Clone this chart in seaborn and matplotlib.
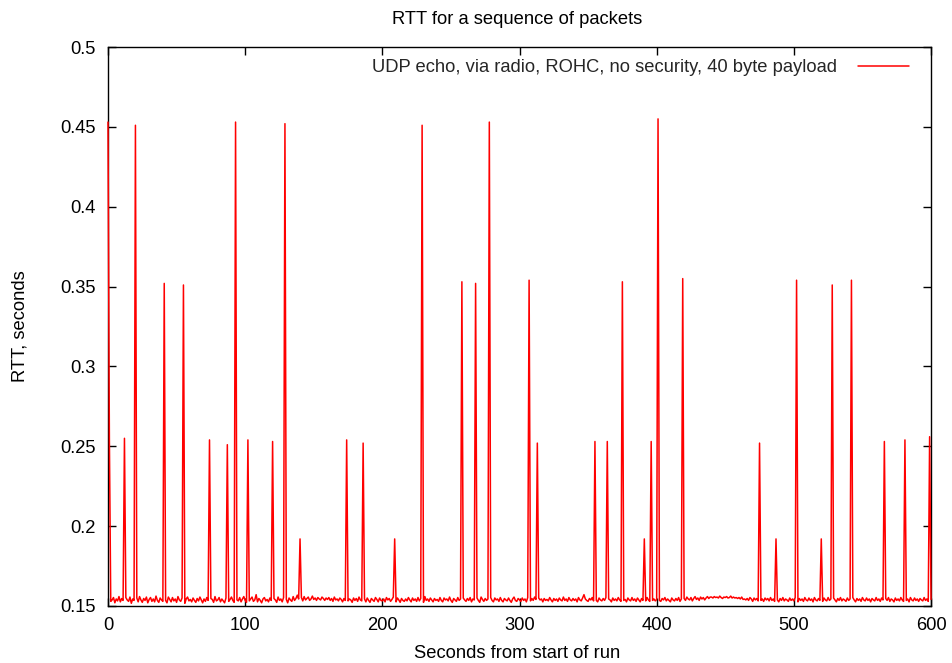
import numpy as np
import pandas as pd
import matplotlib
matplotlib.use("Agg")
import matplotlib.pyplot as plt
import seaborn as sns

# Baseline RTT, one sample per second (t = 0..600),
# in units of 0.3 ms above 144.5 ms
baseline_units = [
    35,40,28,31,36,25,33,29,38,27,34,30,26,36,31,28,37,24,33,30,
    29,35,27,38,31,26,34,30,37,25,32,36,28,33,27,39,30,26,35,31,
    28,34,30,25,37,32,27,36,29,33,26,38,31,28,35,30,24,33,37,29,
    32,27,35,30,26,34,29,37,31,25,33,28,36,30,27,34,32,26,38,29,
    31,36,27,33,29,25,35,40,28,32,37,30,26,34,31,29,36,27,33,38,
    30,26,35,29,33,37,28,31,42,27,34,30,25,33,36,29,32,27,35,30,
    28,34,31,26,37,30,33,27,36,29,32,25,35,31,28,38,30,34,41,33,
    30,36,29,38,31,34,37,30,33,39,32,35,30,36,33,31,37,34,30,35,
    32,36,30,34,28,37,31,33,29,35,32,27,34,30,36,29,33,31,26,35,
    30,34,28,37,31,29,43,33,27,35,30,26,34,31,28,36,32,27,35,30,
    29,33,27,36,31,34,28,32,37,30,27,35,31,26,34,30,28,33,29,36,
    31,27,35,30,33,28,36,29,34,31,26,38,30,33,28,35,31,27,34,30,
    32,28,36,30,27,35,31,33,29,37,30,26,34,31,28,36,30,33,27,35,
    31,28,34,30,36,27,33,31,29,35,30,26,37,32,28,34,30,33,29,36,
    30,27,35,31,33,28,36,30,27,34,31,29,35,30,26,33,37,30,28,34,
    31,28,35,30,33,27,36,31,29,34,30,37,32,28,35,31,33,27,34,30,
    32,29,36,31,27,34,30,33,28,35,31,29,37,30,33,28,36,31,29,34,
    30,33,27,36,31,29,35,42,33,30,28,34,31,36,29,33,30,27,35,31,
    29,34,30,36,28,33,31,27,35,30,33,29,36,31,28,34,30,32,27,35,
    31,29,36,30,33,28,35,31,27,34,30,33,29,36,31,28,34,30,33,29,
    32,35,30,28,34,31,36,29,33,30,27,35,31,29,34,30,36,28,33,31,
    34,30,37,33,31,36,29,34,38,32,35,30,37,33,36,31,35,38,34,37,
    37,35,38,36,37,35,39,36,34,37,36,38,35,36,39,35,37,35,36,34,
    36,33,37,32,33,31,34,30,36,33,28,35,31,34,29,36,30,33,28,35,
    31,34,29,36,30,33,28,35,31,27,34,30,36,29,33,31,28,35,30,33,
    29,36,31,27,34,30,33,28,36,31,29,35,30,33,27,36,31,29,34,30,
    33,28,35,31,29,36,30,33,28,35,31,27,34,30,36,29,33,31,28,35,
    30,33,29,36,31,27,34,30,33,28,36,31,29,35,30,33,27,34,31,29,
    36,30,33,28,35,31,29,34,30,36,28,33,31,27,35,30,33,29,36,31,
    28,34,30,33,27,36,31,29,35,30,33,28,34,31,29,36,30,33,28,31,
    32,
]
BASE_RTT = 0.1445
UNIT = 0.0003

# Spike samples (seconds, RTT in seconds)
spike_times = [0, 1, 12, 20, 41, 55, 74, 87, 93, 102, 120, 129, 140, 174, 186,
               209, 229, 258, 268, 278, 307, 313, 355, 364, 375, 391, 396, 401,
               419, 475, 487, 502, 520, 528, 542, 566, 581, 599]
spike_values = [0.453, 0.255, 0.255, 0.451, 0.352, 0.351, 0.254, 0.251, 0.453,
                0.254, 0.253, 0.452, 0.192, 0.254, 0.252, 0.192, 0.451, 0.353,
                0.352, 0.453, 0.354, 0.252, 0.253, 0.253, 0.353, 0.192, 0.253,
                0.455, 0.355, 0.252, 0.192, 0.354, 0.192, 0.351, 0.354, 0.253,
                0.254, 0.256]

x_ticks = [0, 100, 200, 300, 400, 500, 600]
y_ticks = [0.15, 0.2, 0.25, 0.3, 0.35, 0.4, 0.45, 0.5]
y_tick_labels = ["0.15", "0.2", "0.25", "0.3", "0.35", "0.4", "0.45", "0.5"]

title = "RTT for a sequence of packets"
series_label = "UDP echo, via radio, ROHC, no security, 40 byte payload"

# Build the series
seconds = np.arange(len(baseline_units))
rtt = BASE_RTT + np.array(baseline_units) * UNIT
for t, v in zip(spike_times, spike_values):
    rtt[t] = v
df = pd.DataFrame({"seconds": seconds, "rtt": rtt})

sns.set_theme(style="white")
plt.rcParams["font.family"] = ["Liberation Sans", "DejaVu Sans"]
fs = 13.2

fig = plt.figure(figsize=(9.53, 6.63), dpi=100)
ax = fig.add_axes([108 / 953, 1 - 606 / 663, (931 - 108) / 953, (606 - 47) / 663])

sns.lineplot(data=df, x="seconds", y="rtt", ax=ax, color="#ff0000",
             linewidth=1.1, label=series_label, legend=True, zorder=3)
for ln in ax.lines:
    ln.set_clip_on(False)

ax.set_xlim(0, 600)
ax.set_ylim(0.15, 0.5)
ax.set_xticks(x_ticks)
ax.set_xticklabels([str(v) for v in x_ticks])
ax.set_yticks(y_ticks)
ax.set_yticklabels(y_tick_labels)
ax.tick_params(direction="in", length=6, width=1, color="black",
               top=True, right=True, bottom=True, left=True,
               labelsize=fs, labelcolor="black")
ax.tick_params(axis="y", pad=9)
ax.tick_params(axis="x", pad=8)
for s in ax.spines.values():
    s.set_color("black")
    s.set_linewidth(1.0)
    s.set_visible(True)

ax.set_xlabel("")
ax.set_ylabel("")
fig.text(517 / 953, 1 - 653 / 663, "Seconds from start of run", ha="center",
         va="center", fontsize=fs, color="black")
fig.text(20 / 953, 1 - 326 / 663, "RTT, seconds", ha="center", va="center",
         rotation=90, fontsize=fs, color="black")
fig.text(517 / 953, 1 - 20 / 663, title, ha="center", va="center",
         fontsize=fs, color="black")

leg = ax.legend(loc="center right", bbox_to_anchor=((909 - 108) / 823, 1 - (68 - 47) / 559),
                frameon=False, markerfirst=False, fontsize=fs,
                handlelength=2.8, handletextpad=1.1, borderpad=0, borderaxespad=0)

fig.savefig("out.png", dpi=100)
